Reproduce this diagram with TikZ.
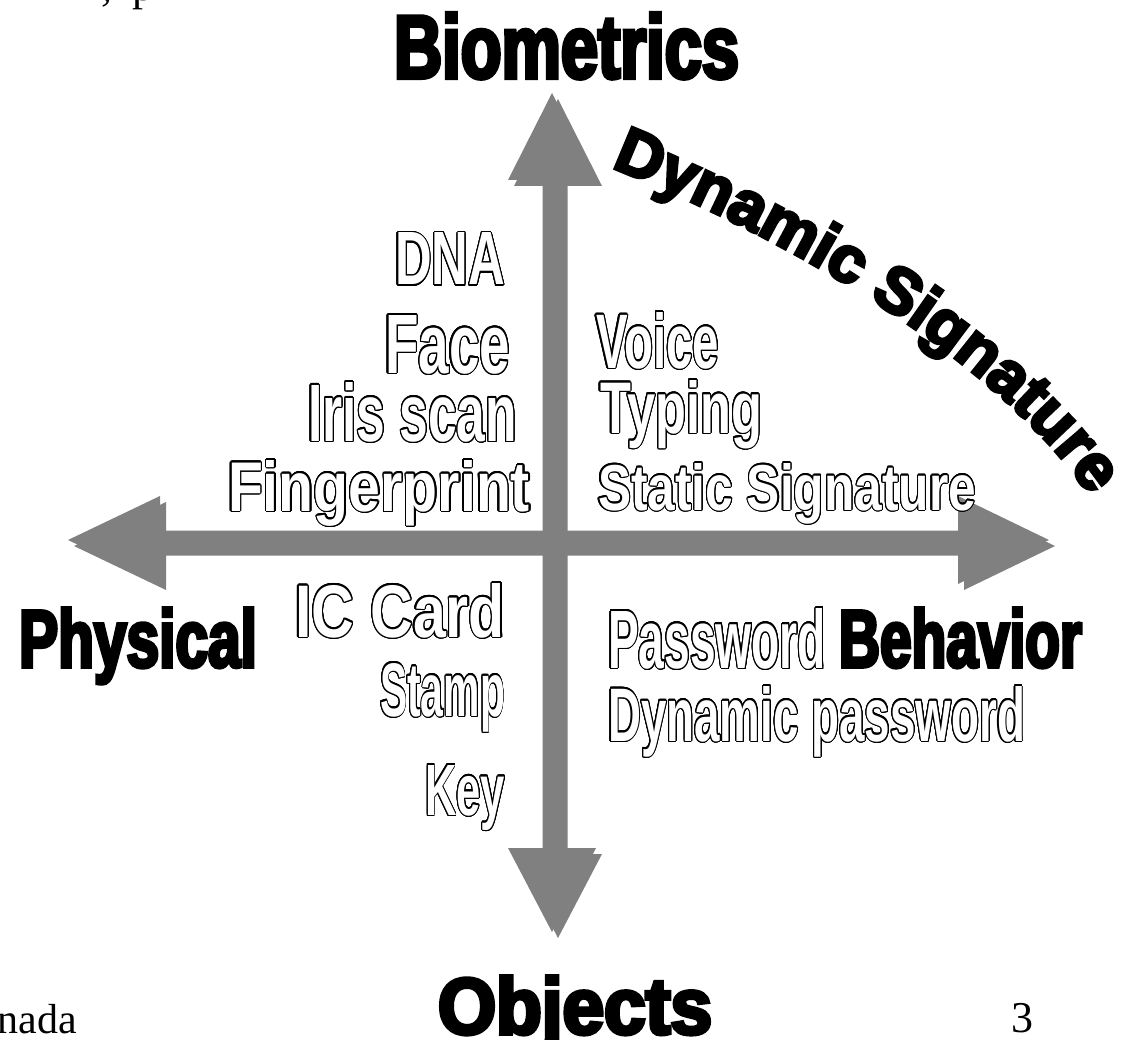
\documentclass[tikz,border=0pt]{standalone}
\usepackage{fontspec}
\usepackage{contour}
\usetikzlibrary{decorations.text}
\setmainfont{Liberation Serif}
\newfontfamily\outfont{Liberation Sans}[FakeStretch=0.78]
\newfontfamily\heavyfont{Liberation Sans}[FakeBold=4.5,FakeStretch=0.8]
\newfontfamily\sigfont{Liberation Sans}[FakeBold=5]
\contourlength{1.25pt}
\contournumber{24}
\definecolor{axisgray}{HTML}{808080}
\tikzset{
  lbl/.style={anchor=base west,inner sep=0pt,outer sep=0pt},
}
% outlined label: name, x-left, baseline, width, height, text
\newcommand\olab[6]{\node[lbl] (#1) at (#2,#3) {\resizebox{#4pt}{#5pt}{\fontsize{72}{72}\outfont\bfseries\color{white}\contour{black}{#6}}};}
% heavy black label
\newcommand\blab[6]{\node[lbl] (#1) at (#2,#3) {\resizebox{#4pt}{#5pt}{\fontsize{72}{72}\heavyfont\bfseries #6}};}
\newcommand\crossshape{%
  (552,93) -- (596,180) -- (561.5,180) -- (561.5,530.5) -- (958,530.5) -- (958,496) -- (1049,540)
  -- (958,584) -- (958,549.5) -- (561.5,549.5) -- (561.5,848) -- (596,848) -- (552,932)
  -- (508,848) -- (542.5,848) -- (542.5,549.5) -- (160,549.5) -- (160,584) -- (68,540)
  -- (160,496) -- (160,530.5) -- (542.5,530.5) -- (542.5,180) -- (508,180) -- cycle}
\begin{document}
\begin{tikzpicture}[x=1pt,y=-1pt]
\useasboundingbox (0,0) rectangle (1126,1040);
% axes (with slight offset copy)
\coordinate (O) at (552,540);
\fill[axisgray,shift={(6,6)}] \crossshape;
\fill[axisgray] \crossshape;

% axis titles
\blab{bio}{394}{78}{345}{65}{Biometrics}
\blab{phys}{19}{667}{238}{59}{Physical}
\blab{beh}{839}{667}{243}{59}{Behavior}
\blab{obj}{438}{1034}{274}{58}{Objects}

% curved label
\coordinate (ds1) at (618,170);
\coordinate (ds2) at (1086,490);
\path[decorate,decoration={text along path,text align=center,
  text={|\fontsize{65}{65}\sigfont\bfseries|Dynamic Signature}}]
  (ds1) .. controls (803,245) and (996,362) .. (ds2);

% upper left
\olab{dna}{395}{285}{110}{52}{DNA}
\olab{face}{385}{373}{125}{58}{Face}
\olab{iris}{308}{441}{209}{59}{Iris scan}
\olab{finger}{228}{511}{302}{51}{Fingerprint}
% upper right
\olab{voice}{596}{368}{123}{56}{Voice}
\olab{typing}{600}{433}{162}{53}{Typing}
\olab{static}{598}{510}{378}{47}{Static Signature}
% lower left
\olab{ic}{295}{637}{210}{54}{IC Card}
\olab{stamp}{380}{716}{125}{53}{Stamp}
\olab{key}{425}{815}{80}{50}{Key}
% lower right
\olab{pw}{608}{668}{218}{60}{Password}
\olab{dpw}{608}{741}{417}{55}{Dynamic password}

% slide remnants
\node[lbl,font=\fontsize{44}{44}\selectfont] (frag) at (101,1) {,\hspace{21pt}p};
\node[lbl,font=\fontsize{42}{42}\selectfont] (author) at (-2,1033) {nada};
\node[lbl,font=\fontsize{44}{44}\selectfont] (page) at (1011,1032) {3};
\end{tikzpicture}
\end{document}
